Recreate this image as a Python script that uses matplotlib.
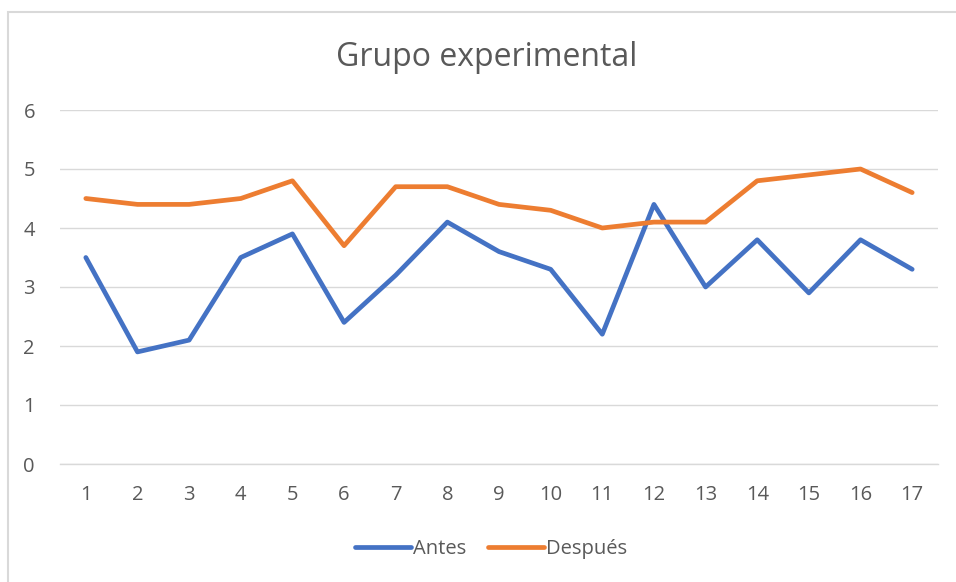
import matplotlib
matplotlib.use("Agg")
import matplotlib.pyplot as plt
from matplotlib.patches import Rectangle

# Data
categorias = list(range(1, 18))
antes = [3.5, 1.9, 2.1, 3.5, 3.9, 2.4, 3.2, 4.1, 3.6, 3.3, 2.2, 4.4, 3.0, 3.8, 2.9, 3.8, 3.3]
despues = [4.5, 4.4, 4.4, 4.5, 4.8, 3.7, 4.7, 4.7, 4.4, 4.3, 4.0, 4.1, 4.1, 4.8, 4.9, 5.0, 4.6]
y_ticks = [0, 1, 2, 3, 4, 5, 6]

plt.rcParams['font.family'] = ['Open Sans', 'DejaVu Sans']
texto = '#595959'
grid = '#D9D9D9'

W, H = 956, 582
fig = plt.figure(figsize=(W / 100, H / 100), dpi=100)

# chart-area border
fig.patches.append(Rectangle((7.5 / W, -0.1), 1.2, (H - 11.5) / H + 0.1,
                             transform=fig.transFigure, fill=False,
                             edgecolor=grid, linewidth=1.5))

ax = fig.add_axes([60 / W, (H - 464) / H, (938 - 60) / W, (464 - 110) / H])
ax.plot(categorias, antes, color='#4472C4', linewidth=3.4, label='Antes',
        solid_joinstyle='round', solid_capstyle='round')
ax.plot(categorias, despues, color='#ED7D31', linewidth=3.4, label='Después',
        solid_joinstyle='round', solid_capstyle='round')

ax.set_xlim(0.5, 17.5)
ax.set_ylim(0, 6)
ax.set_yticks(y_ticks)
ax.set_xticks(categorias)
ax.set_xticklabels([str(c) for c in categorias])
ax.yaxis.grid(True, color=grid, linewidth=1.0)
ax.set_axisbelow(True)
for s in ['top', 'right', 'left']:
    ax.spines[s].set_visible(False)
ax.spines['bottom'].set_color(grid)
ax.spines['bottom'].set_linewidth(1.0)
ax.tick_params(axis='both', length=0, labelsize=14.5, labelcolor=texto)
ax.tick_params(axis='y', pad=18)
ax.tick_params(axis='x', pad=15)

fig.text(487 / W, 1 - 57 / H, 'Grupo experimental', ha='center', va='center',
         fontsize=23, color=texto)

leg = fig.legend(loc='center', bbox_to_anchor=(491 / W, 1 - 549 / H), ncol=2,
                 frameon=False, fontsize=14.5, handlelength=2.75,
                 handletextpad=0.1, columnspacing=1.1, labelcolor=texto)

fig.savefig('out.png', dpi=100)
